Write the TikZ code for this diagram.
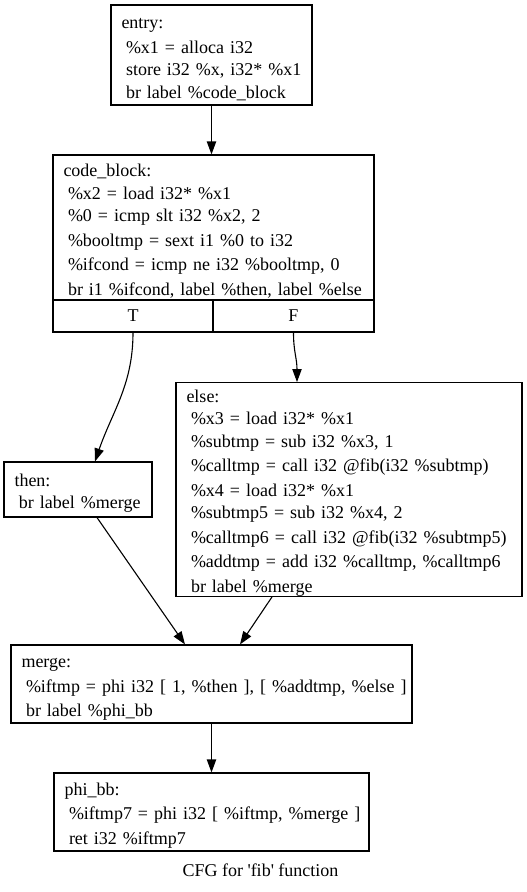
\documentclass[tikz,border=0pt]{standalone}
\usepackage{fontspec}
\setmainfont{Liberation Serif}[Ligatures=TeXOff]
\usetikzlibrary{arrows.meta}
\newcommand{\ind}{\hspace*{4.5pt}}
\newcommand{\cl}[1]{\mbox{\rule[-2.5pt]{0pt}{22.3pt}#1}}
\begin{document}
\begin{tikzpicture}[x=1pt,y=-1pt,
  blk/.style={draw, line width=1.1pt, rectangle, inner xsep=10.5pt, inner ysep=0pt,
     align=left, font=\fontsize{18}{22.3}\selectfont},
  port/.style={draw, line width=1.1pt, rectangle, inner sep=0pt, font=\fontsize{18}{22.3}\selectfont},
  arr/.style={line width=1.1pt, -{Triangle[length=13pt,width=9.3pt]}},
  captxt/.style={font=\fontsize{18}{22.3}\selectfont}]
\useasboundingbox[fill=white] (0,0) rectangle (527,892);

\node[blk, minimum width=201pt, minimum height=100pt, text width=180pt] (entry) at (211.5,55)
 {\cl{entry:}\\ \cl{\ind\%x1 = alloca i32}\\ \cl{\ind store i32 \%x, i32* \%x1}\\ \cl{\ind br label \%code\_block}};

\node[blk, minimum width=321pt, minimum height=145pt, text width=300pt] (cb) at (213.5,227.5)
 {\cl{code\_block:}\\ \cl{\ind\%x2 = load i32* \%x1}\\ \cl{\ind\%0 = icmp slt i32 \%x2, 2}\\ \cl{\ind\%booltmp = sext i1 \%0 to i32}\\ \cl{\ind\%ifcond = icmp ne i32 \%booltmp, 0}\\ \cl{\ind br i1 \%ifcond, label \%then, label \%else}};
\node[port, minimum width=160pt, minimum height=32pt] (cbT) at (133,316) {T};
\node[port, minimum width=161pt, minimum height=32pt] (cbF) at (293.5,316) {F};

\node[blk, minimum width=148pt, minimum height=55pt, text width=127pt] (then) at (78,489.5)
 {\cl{then:}\\ \cl{\ind br label \%merge}};

\node[blk, minimum width=346pt, minimum height=213pt, text width=325pt] (else) at (349,489.5)
 {\cl{else:}\\ \cl{\ind\%x3 = load i32* \%x1}\\ \cl{\ind\%subtmp = sub i32 \%x3, 1}\\ \cl{\ind\%calltmp = call i32 @fib(i32 \%subtmp)}\\ \cl{\ind\%x4 = load i32* \%x1}\\ \cl{\ind\%subtmp5 = sub i32 \%x4, 2}\\ \cl{\ind\%calltmp6 = call i32 @fib(i32 \%subtmp5)}\\ \cl{\ind\%addtmp = add i32 \%calltmp, \%calltmp6}\\ \cl{\ind br label \%merge}};

\node[blk, minimum width=401pt, minimum height=78pt, text width=380pt] (merge) at (211.5,684)
 {\cl{merge:}\\ \cl{\ind\%iftmp = phi i32 [ 1, \%then ], [ \%addtmp, \%else ]}\\ \cl{\ind br label \%phi\_bb}};

\node[blk, minimum width=315pt, minimum height=78pt, text width=294pt] (phi) at (211.5,812)
 {\cl{phi\_bb:}\\ \cl{\ind\%iftmp7 = phi i32 [ \%iftmp, \%merge ]}\\ \cl{\ind ret i32 \%iftmp7}};

\node[captxt] (caption) at (260.5,870) {CFG for 'fib' function};

\draw[arr] (entry.south) -- (entry.south |- cb.north);
\draw[arr] (cbT.south) .. controls (133,385) and (112,412) .. ([xshift=17pt]then.north);
\draw[arr] (cbF.south) .. controls (293.5,352) and (297,358) .. ([xshift=-52pt]else.north);
\draw[arr] ([xshift=19pt]then.south) -- ([xshift=-26.5pt]merge.north);
\draw[arr] ([xshift=-77pt]else.south) -- ([xshift=28.5pt]merge.north);
\draw[arr] (merge.south) -- (phi.north);
\end{tikzpicture}
\end{document}
